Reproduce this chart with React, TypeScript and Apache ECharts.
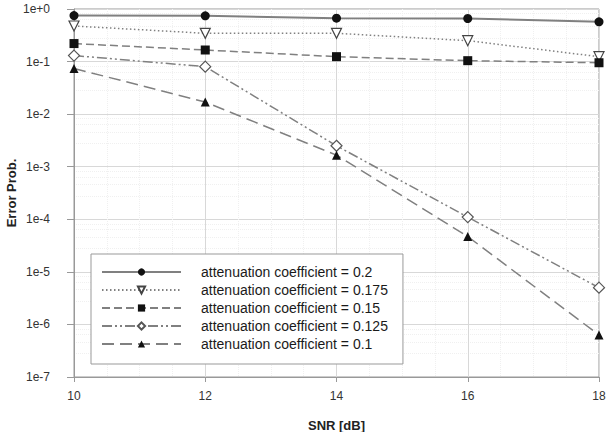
import React, { useEffect, useRef } from "react";
import * as echarts from "echarts";

const snr = [10, 12, 14, 16, 18];
const seriesNames = [
  "attenuation coefficient = 0.2",
  "attenuation coefficient = 0.175",
  "attenuation coefficient = 0.15",
  "attenuation coefficient = 0.125",
  "attenuation coefficient = 0.1",
];
const coef200 = [0.75, 0.74, 0.67, 0.66, 0.57];
const coef175 = [0.475, 0.345, 0.345, 0.25, 0.124];
const coef150 = [0.22, 0.166, 0.124, 0.104, 0.095];
const coef125 = [0.13, 0.08, 2.5e-3, 1.1e-4, 5e-6];
const coef100 = [0.074, 0.017, 1.66e-3, 4.7e-5, 6.3e-7];

const FONT = "'Liberation Sans', Arial, sans-serif";
const LINE = "#808080";

const pair = (ys: number[]) => snr.map((x, i) => [x, ys[i]]);

export default function App() {
  const ref = useRef<HTMLDivElement>(null);
  useEffect(() => {
    if (!ref.current) return;
    const chart = echarts.init(ref.current, null, { renderer: "svg" });
    const base = {
      type: "line",
      symbolKeepAspect: true,
      z: 3,
    };
    chart.setOption({
      animation: false,
      backgroundColor: "#fff",
      grid: {
        left: 74,
        right: 14,
        top: 9,
        bottom: 55,
        outerBoundsMode: "none",
        containLabel: false,
        show: true,
        borderColor: "#999",
        borderWidth: 1,
      },
      xAxis: {
        type: "value",
        min: 10,
        max: 18,
        interval: 2,
        name: "SNR [dB]",
        nameLocation: "middle",
        nameGap: 42,
        nameMoveOverlap: false,
        nameTextStyle: { fontFamily: FONT, fontSize: 13, fontWeight: "bold", color: "#222" },
        axisLine: { lineStyle: { color: "#999", width: 1 } },
        axisTick: { show: true, length: 5, lineStyle: { color: "#999" } },
        axisLabel: { fontFamily: FONT, fontSize: 12, color: "#333", margin: 13 },
        splitLine: { show: true, lineStyle: { color: "#d8d8d8", width: 1 } },
        minorTick: { show: false, splitNumber: 4 },
        minorSplitLine: { show: true, lineStyle: { color: "#f0f0f0", type: "dotted" } },
      },
      yAxis: {
        type: "log",
        logBase: 10,
        min: 1e-7,
        max: 1,
        name: "Error Prob.",
        nameLocation: "middle",
        nameGap: 56,
        nameMoveOverlap: false,
        nameTextStyle: { fontFamily: FONT, fontSize: 13, fontWeight: "bold", color: "#222" },
        axisLine: { show: true, lineStyle: { color: "#999", width: 1 } },
        axisTick: { show: true, length: 7, lineStyle: { color: "#999" } },
        axisLabel: {
          fontFamily: FONT,
          fontSize: 12,
          color: "#333",
          margin: 24,
          formatter: (v: number) => {
            const e = Math.round(Math.log10(v));
            return e >= 0 ? `1e+${e}` : `1e${e}`;
          },
        },
        splitLine: { show: true, lineStyle: { color: "#d8d8d8", width: 1 } },
        minorTick: { show: false, splitNumber: 5 },
        minorSplitLine: { show: true, lineStyle: { color: "#f0f0f0", type: "dotted" } },
      },
      legend: {
        orient: "vertical",
        left: 91,
        top: 254,
        z: 10,
        padding: [11, 15, 13, 10],
        itemWidth: 79,
        itemHeight: 9,
        itemGap: 4,
        backgroundColor: "#fff",
        borderColor: "#999",
        borderWidth: 1,
        borderRadius: 0,
        textStyle: { fontFamily: FONT, fontSize: 14, color: "#1a1a1a", lineHeight: 14, padding: [0, 0, 0, 15] },
        data: seriesNames,
      },
      series: [
        {
          ...base,
          name: seriesNames[0],
          data: pair(coef200),
          symbol: "circle",
          symbolSize: 9,
          itemStyle: { color: "#111", borderColor: "#111", borderWidth: 0 },
          lineStyle: { color: LINE, width: 2, type: "solid" },
        },
        {
          ...base,
          name: seriesNames[1],
          data: pair(coef175),
          symbol: "triangle",
          symbolRotate: 180,
          symbolSize: 10,
          itemStyle: { color: "#fff", borderColor: "#444", borderWidth: 1.2 },
          lineStyle: { color: LINE, width: 1.5, type: [1.5, 2.5] },
        },
        {
          ...base,
          name: seriesNames[2],
          data: pair(coef150),
          symbol: "rect",
          symbolSize: 9,
          itemStyle: { color: "#111", borderColor: "#111", borderWidth: 0 },
          lineStyle: { color: LINE, width: 1.5, type: [8, 4] },
        },
        {
          ...base,
          name: seriesNames[3],
          data: pair(coef125),
          symbol: "diamond",
          symbolSize: 11,
          itemStyle: { color: "#fff", borderColor: "#555", borderWidth: 1.2 },
          lineStyle: { color: LINE, width: 1.5, type: [10, 3, 2, 3, 2, 3] },
        },
        {
          ...base,
          name: seriesNames[4],
          data: pair(coef100),
          symbol: "triangle",
          symbolSize: 9,
          itemStyle: { color: "#111", borderColor: "#111", borderWidth: 0 },
          lineStyle: { color: LINE, width: 1.5, type: [12, 6] },
        },
      ],
    });
    return () => chart.dispose();
  }, []);
  return (
    <div
      ref={ref}
      style={{ position: "fixed", left: 0, top: 0, width: 613, height: 432 }}
    />
  );
}
